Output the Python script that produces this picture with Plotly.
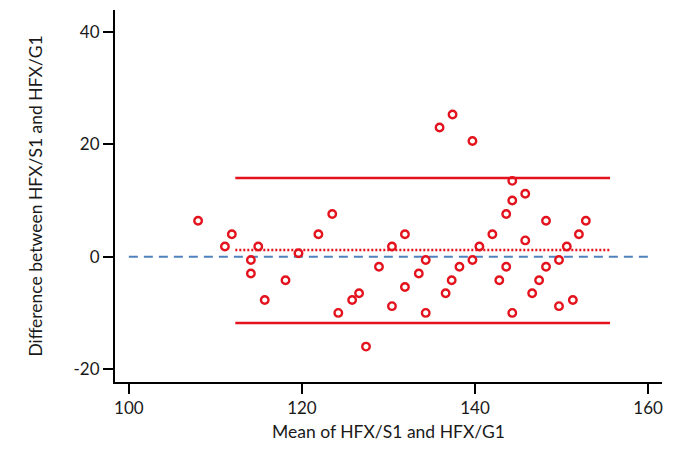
import plotly.graph_objects as go

# Bland-Altman: mean vs difference of HFX/S1 and HFX/G1
MEAN = [108.0, 111.1, 111.9, 114.95, 114.1, 114.1, 115.7, 118.1, 119.6, 121.9,
        123.5, 124.2, 125.8, 126.6, 127.4, 128.9, 130.4, 130.4,
        135.9, 137.4, 139.7, 144.3, 145.8, 144.3, 143.6, 148.2, 152.8, 152.0,
        142.0, 131.9, 140.5, 145.8, 150.6, 134.3, 139.7, 149.7, 138.2, 143.6,
        148.2, 133.5, 137.3, 142.8, 147.4, 131.9, 136.6, 146.6, 149.7, 151.3,
        134.3, 144.3]
DIFF = [6.4, 1.8, 4.0, 1.8, -0.6, -3.0, -7.7, -4.2, 0.6, 4.0,
        7.6, -10.0, -7.7, -6.5, -16.0, -1.8, 1.8, -8.8,
        23.0, 25.3, 20.6, 13.5, 11.2, 10.0, 7.6, 6.4, 6.4, 4.0,
        4.0, 4.0, 1.8, 2.9, 1.8, -0.6, -0.6, -0.6, -1.8, -1.8,
        -1.8, -3.0, -4.2, -4.2, -4.2, -5.4, -6.5, -6.5, -8.8, -7.7,
        -10.0, -10.0]

BIAS = 1.2
UPPER, LOWER = 14.0, -11.8
LOA_X = [112.3, 155.6]
ZERO_X = [100.0, 160.2]

X_TICKS = [100, 120, 140, 160]
Y_TICKS = [-20, 0, 20, 40]
Y_LABELS = ['-20', '0', '20', '40']

RED = '#e3121c'
BLUE = '#4f81bd'

fig = go.Figure()
fig.add_trace(go.Scatter(x=ZERO_X, y=[0, 0], mode='lines',
                         line=dict(color=BLUE, width=2, dash='9px,6px')))
fig.add_trace(go.Scatter(x=LOA_X, y=[UPPER, UPPER], mode='lines',
                         line=dict(color=RED, width=2.4)))
fig.add_trace(go.Scatter(x=LOA_X, y=[LOWER, LOWER], mode='lines',
                         line=dict(color=RED, width=2.4)))
fig.add_trace(go.Scatter(x=LOA_X, y=[BIAS, BIAS], mode='lines',
                         line=dict(color=RED, width=2.4, dash='2px,2px')))
fig.add_trace(go.Scatter(x=MEAN, y=DIFF, mode='markers',
                         marker=dict(symbol='circle-open', size=7.5, color=RED,
                                     line=dict(width=2.4, color=RED))))

FONT = 'Lato, Open Sans, sans-serif'
fig.update_layout(
    width=677, height=446, showlegend=False,
    paper_bgcolor='white', plot_bgcolor='white',
    margin=dict(l=107, r=23, t=2, b=72),
    font=dict(family=FONT, color='#1a1a1a', size=16),
)
fig.update_xaxes(range=[98.4, 161.6], tickvals=X_TICKS,
                 showgrid=False, zeroline=False, showline=True, linecolor='black',
                 linewidth=2, ticks='outside', ticklen=10, tickwidth=2,
                 tickcolor='black', tickfont=dict(size=17),
                 title=dict(text='Mean of HFX/S1 and HFX/G1', font=dict(size=17.5),
                            standoff=8))
fig.update_yaxes(range=[-22.3, 43.9], tickvals=Y_TICKS, ticktext=Y_LABELS,
                 showgrid=False, zeroline=False, showline=True, linecolor='black',
                 linewidth=2, ticks='outside', ticklen=10, tickwidth=2,
                 tickcolor='black', tickfont=dict(size=17),
                 title=dict(text='Difference between HFX/S1 and HFX/G1',
                            font=dict(size=17.5), standoff=26))

fig.write_html("out.html")
